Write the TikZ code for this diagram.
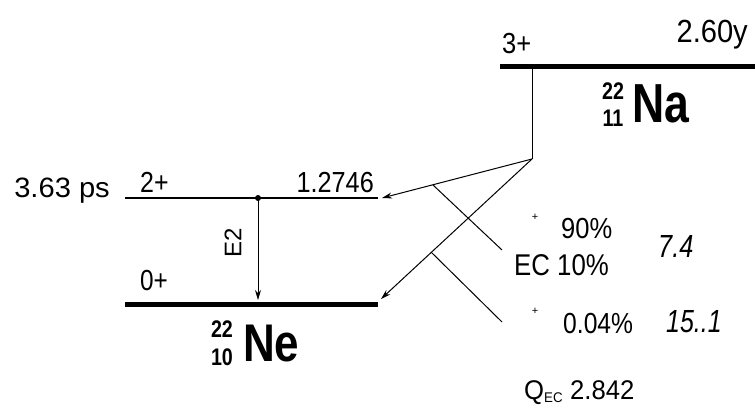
\documentclass[tikz,border=0pt]{standalone}
\usepackage{graphicx}
\usepackage{fontspec}
\setmainfont{Liberation Sans}
\usetikzlibrary{arrows.meta}
\newcommand\Txt[3]{\fontsize{#1}{#1}\selectfont\scalebox{#2}[1]{#3}}
\begin{document}
\begin{tikzpicture}[x=1pt,y=-1pt,
  lbl/.style={inner sep=0pt},
  ilbl/.style={font=\itshape, inner sep=0pt},
  sml/.style={font=\fontsize{11}{12}\selectfont, inner sep=0pt},
  znum/.style={font=\bfseries, inner sep=0pt},
  elem/.style={font=\bfseries, inner sep=0pt},
  thinlevel/.style={line width=2pt},
  thicklevel/.style={line width=5pt},
  conn/.style={line width=1pt},
  arr/.style={conn,-{Stealth[length=10pt,width=6pt]}}]
\useasboundingbox (0,0) rectangle (755,414);
% Na level
\coordinate (naL) at (500,66.7);
\coordinate (naR) at (755,66.7);
\draw[thicklevel] (naL) -- (naR);
\node[lbl,anchor=base west] (na3) at (502,54) {\Txt{29}{0.88}{3+}};
\node[lbl,anchor=base east] (naT) at (748,43) {\Txt{32}{0.91}{2.60y}};
\node[znum] (naA) at (613,91) {\Txt{24}{0.82}{22}};
\node[znum] (naZ) at (613,118) {\Txt{24}{0.82}{11}};
\node[elem,anchor=base west] (naE) at (632,123) {\Txt{55}{0.81}{Na}};
% Ne levels
\coordinate (n2L) at (125,198);
\coordinate (n2R) at (378,198);
\draw[thinlevel] (n2L) -- (n2R);
\coordinate (n0L) at (125,304);
\coordinate (n0R) at (378,304);
\draw[thicklevel] (n0L) -- (n0R);
\node[lbl,anchor=base east] (hl) at (110,198) {\Txt{28}{1.04}{3.63 ps}};
\node[lbl,anchor=base west] (s2) at (140,193) {\Txt{29}{0.86}{2+}};
\node[lbl,anchor=base east] (e2) at (374,193) {\Txt{29}{0.87}{1.2746}};
\node[lbl,anchor=base west] (s0) at (140,290) {\Txt{29}{0.84}{0+}};
\node[znum] (neA) at (222,329) {\Txt{24}{0.82}{22}};
\node[znum] (neZ) at (222,357) {\Txt{24}{0.82}{10}};
\node[elem,anchor=base west] (neE) at (243,361) {\Txt{53}{0.83}{Ne}};
% gamma
\coordinate (gtop) at (258,198);
\coordinate (gbot) at (258,300);
\fill (gtop) circle (3pt);
\draw[arr] (gtop) -- (gbot);
\node[lbl,rotate=90] (E2) at (233,243) {\Txt{24}{1.0}{E2}};
% decay lines
\coordinate (vtop) at (532,69);
\coordinate (kink) at (532,159);
\coordinate (t2) at (382,198);
\coordinate (t0) at (381,299);
\draw[conn] (vtop) -- (kink);
\draw[arr] (kink) -- (t2);
\draw[arr] (kink) -- (t0);
\coordinate (b1s) at (433,185);
\coordinate (b1e) at (502,250);
\coordinate (b2s) at (431,252);
\coordinate (b2e) at (502,322);
\draw[conn] (b1s) -- (b1e);
\draw[conn] (b2s) -- (b2e);
% branch labels
\node[sml] (p1) at (535,217) {+};
\node[lbl,anchor=base west] (r1) at (561,239) {\Txt{29}{0.88}{90\%}};
\node[lbl,anchor=base west] (r2) at (514,276) {\Txt{30}{0.86}{EC 10\%}};
\node[ilbl,anchor=base west] (ft1) at (658,258) {\Txt{32}{0.79}{7.4}};
\node[sml] (p2) at (535,311) {+};
\node[lbl,anchor=base west] (r3) at (563,333) {\Txt{29}{0.85}{0.04\%}};
\node[ilbl,anchor=base west] (ft2) at (666,332) {\Txt{32}{0.78}{15..1}};
\node[lbl,anchor=base west] (q) at (524,399) {\Txt{27}{0.95}{Q\textsubscript{\fontsize{14}{14}\selectfont EC} 2.842}};
\end{tikzpicture}
\end{document}
